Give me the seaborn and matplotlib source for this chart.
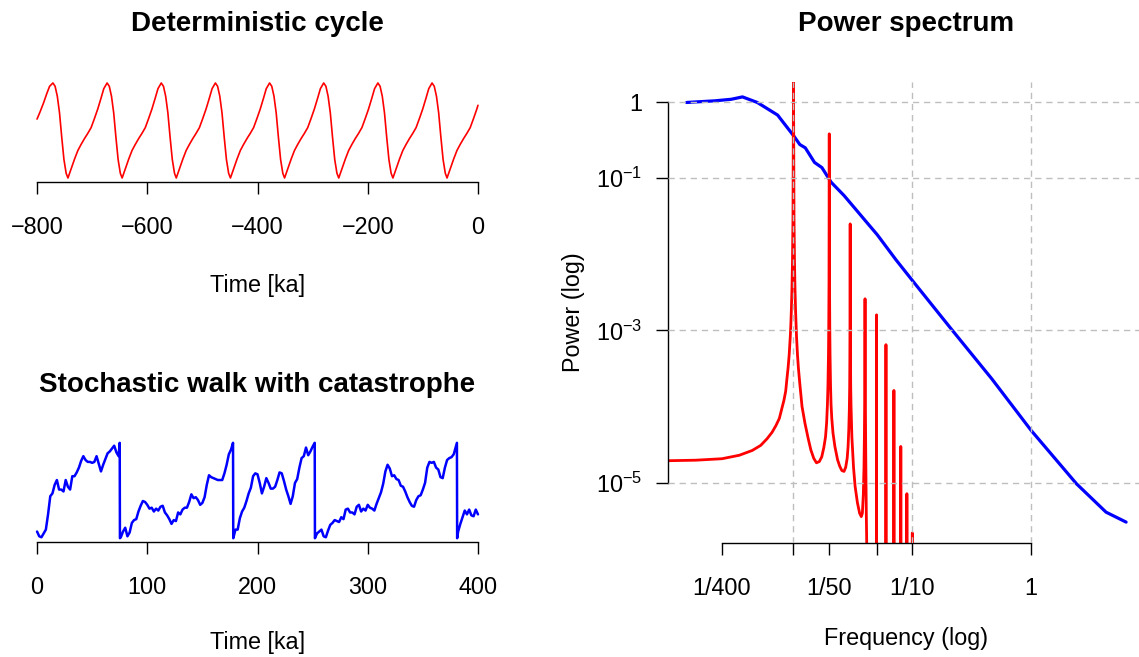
import numpy as np
import seaborn as sns
import matplotlib
matplotlib.use("Agg")  # no display
import matplotlib.pyplot as plt

# ---- data ----
# deterministic cycle: time [ka], amplitude (arbitrary units)
cycle_t = [-800.0, -794.2, -788.2, -782.2, -777.2, -771.2, -767.2, -763.2, -759.2, -755.2, -751.2, -747.2,
           -743.9, -737.9, -731.9, -725.9, -719.9, -713.9, -707.9, -701.9, -695.9, -689.9, -683.9, -678.9, -672.9, -668.9, -664.9, -660.9, -656.9, -652.9, -648.9,
           -645.6, -639.6, -633.6, -627.6, -621.6, -615.6, -609.6, -603.6, -597.6, -591.6, -585.6, -580.6, -574.6, -570.6, -566.6, -562.6, -558.6, -554.6, -550.6,
           -547.4, -541.4, -535.4, -529.4, -523.4, -517.4, -511.4, -505.4, -499.4, -493.4, -487.4, -482.4, -476.4, -472.4, -468.4, -464.4, -460.4, -456.4, -452.4,
           -449.1, -443.1, -437.1, -431.1, -425.1, -419.1, -413.1, -407.1, -401.1, -395.1, -389.1, -384.1, -378.1, -374.1, -370.1, -366.1, -362.1, -358.1, -354.1,
           -350.9, -344.9, -338.9, -332.9, -326.9, -320.9, -314.9, -308.9, -302.9, -296.9, -290.9, -285.9, -279.9, -275.9, -271.9, -267.9, -263.9, -259.9, -255.9,
           -252.6, -246.6, -240.6, -234.6, -228.6, -222.6, -216.6, -210.6, -204.6, -198.6, -192.6, -187.6, -181.6, -177.6, -173.6, -169.6, -165.6, -161.6, -157.6,
           -154.3, -148.3, -142.3, -136.3, -130.3, -124.3, -118.3, -112.3, -106.3, -100.3, -94.3, -89.3, -83.3, -79.3, -75.3, -71.3, -67.3, -63.3, -59.3,
           -56.1, -50.1, -44.1, -38.1, -32.1, -26.1, -20.1, -14.1, -8.1, -2.1, 0.0]
cycle_v = [0.24, 0.40, 0.58, 0.78, 0.93, 1.00, 0.93, 0.72, 0.37, -0.14, -0.61, -0.90,
           -1.00, -0.80, -0.60, -0.42, -0.29, -0.17, -0.06, 0.06, 0.25, 0.45, 0.68, 0.88, 1.00, 0.93, 0.72, 0.37, -0.14, -0.61, -0.90,
           -1.00, -0.80, -0.60, -0.42, -0.29, -0.17, -0.06, 0.06, 0.25, 0.45, 0.68, 0.88, 1.00, 0.93, 0.72, 0.37, -0.14, -0.61, -0.90,
           -1.00, -0.80, -0.60, -0.42, -0.29, -0.17, -0.06, 0.06, 0.25, 0.45, 0.68, 0.88, 1.00, 0.93, 0.72, 0.37, -0.14, -0.61, -0.90,
           -1.00, -0.80, -0.60, -0.42, -0.29, -0.17, -0.06, 0.06, 0.25, 0.45, 0.68, 0.88, 1.00, 0.93, 0.72, 0.37, -0.14, -0.61, -0.90,
           -1.00, -0.80, -0.60, -0.42, -0.29, -0.17, -0.06, 0.06, 0.25, 0.45, 0.68, 0.88, 1.00, 0.93, 0.72, 0.37, -0.14, -0.61, -0.90,
           -1.00, -0.80, -0.60, -0.42, -0.29, -0.17, -0.06, 0.06, 0.25, 0.45, 0.68, 0.88, 1.00, 0.93, 0.72, 0.37, -0.14, -0.61, -0.90,
           -1.00, -0.80, -0.60, -0.42, -0.29, -0.17, -0.06, 0.06, 0.25, 0.45, 0.68, 0.88, 1.00, 0.93, 0.72, 0.37, -0.14, -0.61, -0.90,
           -1.00, -0.80, -0.60, -0.42, -0.29, -0.17, -0.06, 0.06, 0.25, 0.45, 0.53]

# stochastic walk, sampled every 2 ka, with the four catastrophic drops
walk_t = np.concatenate([np.arange(0, 76, 2), [75.0, 75.2],
                         np.arange(76, 177, 2), [177.8, 178.0],
                         np.arange(180, 251, 2), [251.9, 252.1],
                         np.arange(254, 381, 2), [380.9, 381.1],
                         np.arange(382, 401, 2)])
walk_v = [7, 2, 1, 5, 9, 25, 44, 47, 56, 61, 51, 51, 49, 61, 54, 51, 65, 65, 69, 74,
          81, 86, 82, 80, 80, 79, 80, 86, 78, 70, 77, 83, 89, 91, 94, 97, 90, 86, 100,
          0,
          1, 7, 11, 2, 6, 16, 19, 20, 28, 34, 39, 38, 35, 31, 32, 28, 31, 29, 33, 34,
          27, 24, 20, 15, 19, 18, 27, 25, 30, 32, 32, 38, 46, 42, 43, 40, 35, 37, 43, 56,
          66, 64, 63, 62, 61, 61, 61, 68, 77, 88, 93, 100,
          0,
          9, 9, 21, 28, 32, 39, 47, 53, 65, 68, 67, 58, 47, 54, 63, 58, 52, 52, 54, 61,
          69, 68, 60, 51, 44, 36, 44, 58, 62, 74, 84, 86, 95, 87, 91, 96, 100,
          0,
          5, 7, 9, 2, 1, 8, 14, 16, 19, 18, 17, 22, 20, 30, 31, 27, 27, 25, 33, 35,
          28, 31, 29, 35, 32, 31, 29, 36, 42, 48, 57, 70, 77, 73, 65, 66, 62, 61, 55, 54,
          49, 43, 38, 34, 33, 40, 44, 45, 51, 58, 74, 80, 79, 80, 74, 72, 64, 63, 74, 82,
          84, 85, 88, 96, 100,
          0,
          7, 15, 22, 29, 25, 30, 24, 23, 30, 25]

# power spectra (frequency in 1/ka, power)
blue_f = [0.00126, 0.00218, 0.0030, 0.00372, 0.00496, 0.00735, 0.01014, 0.0113, 0.01257, 0.01503,
          0.01734, 0.02074, 0.0266, 0.0330, 0.0409, 0.0507, 0.0725, 0.1, 0.212, 0.466,
          1.0, 2.41, 4.27, 6.3]
blue_p = [0.98, 1.03, 1.08, 1.16, 0.98, 0.67, 0.35, 0.275, 0.249, 0.160,
          0.137, 0.088, 0.059, 0.0397, 0.0267, 0.0180, 0.00853, 0.00453, 1.05e-3, 2.32e-4,
          4.87e-5, 9.7e-6, 4.12e-6, 3.05e-6]

red_f = [0.00088, 0.0015, 0.0025, 0.0035, 0.0045, 0.0053, 0.0060, 0.0066, 0.0071, 0.0076,
         0.0080, 0.0083, 0.0086, 0.0088, 0.0090, 0.0092, 0.0094, 0.0095, 0.0096, 0.0097,
         0.0098, 0.0099, 0.0100, 0.0101, 0.0102, 0.0103, 0.0104, 0.0106, 0.0108, 0.0110,
         0.0113, 0.0118, 0.0125, 0.0133, 0.0140, 0.0148, 0.0156, 0.0165, 0.0173, 0.0180,
         0.0186, 0.0190, 0.0193, 0.0195, 0.0197, 0.0198, 0.0199, 0.0200, 0.0201, 0.0202,
         0.0203, 0.0205, 0.0207, 0.0210, 0.0215, 0.0223, 0.0235, 0.0245, 0.0255, 0.0266,
         0.0275, 0.0283, 0.0288, 0.0292, 0.0295, 0.0297, 0.0298, 0.0299, 0.0300, 0.0301,
         0.0302, 0.0303, 0.0305, 0.0310, 0.0320, 0.0330, 0.0345, 0.0360, 0.0372, 0.0380,
         0.0387, 0.0392, 0.0395, 0.0397, 0.0398, 0.0399, 0.0400, 0.0401, 0.0402, 0.0403,
         0.0406, 0.0410, 0.0415, 0.0450, 0.0499, 0.0500, 0.0501, 0.0599, 0.0600, 0.0601,
         0.0699, 0.0700, 0.0701, 0.0799, 0.0800, 0.0801, 0.0899, 0.0900, 0.0901, 0.0999,
         0.1000, 0.1001]
red_p = [1.95e-5, 1.98e-5, 2.07e-5, 2.3e-5, 2.66e-5, 3.1e-5, 3.8e-5, 4.6e-5, 5.6e-5, 7.0e-5,
         9.6e-5, 1.2e-4, 1.6e-4, 2.3e-4, 3.2e-4, 4.8e-4, 8.4e-4, 1.2e-3, 1.9e-3, 3.4e-3,
         7.6e-3, 3.0e-2, 1.9, 3.0e-2, 7.6e-3, 3.4e-3, 1.9e-3, 8.4e-4, 4.8e-4, 3.2e-4,
         2.0e-4, 1.0e-4, 6.0e-5, 3.8e-5, 2.7e-5, 2.1e-5, 1.83e-5, 1.9e-5, 2.2e-5, 2.9e-5,
         4.0e-5, 6.1e-5, 1.07e-4, 1.9e-4, 4.9e-4, 1.1e-3, 4.4e-3, 0.38, 4.4e-3, 1.1e-3,
         4.9e-4, 1.9e-4, 1.07e-4, 7.0e-5, 4.5e-5, 3.0e-5, 2.0e-5, 1.65e-5, 1.45e-5, 1.41e-5,
         1.6e-5, 2.1e-5, 3.0e-5, 5.0e-5, 9.0e-5, 1.8e-4, 4.0e-4, 1.5e-3, 0.025, 1.5e-3,
         4.0e-4, 1.8e-4, 1.0e-4, 4.0e-5, 1.6e-5, 9.0e-6, 5.5e-6, 4.0e-6, 3.6e-6, 4.0e-6,
         7.0e-6, 1.6e-5, 4.0e-5, 1.0e-4, 2.5e-4, 8.0e-4, 2.6e-3, 8.0e-4, 2.5e-4, 1.0e-4,
         2.0e-5, 4.0e-6, 1.0e-6, 1.0e-7, 1.0e-7, 1.6e-3, 1.0e-7, 1.0e-7, 6.5e-4, 1.0e-7,
         1.0e-7, 1.63e-4, 1.0e-7, 1.0e-7, 3.0e-5, 1.0e-7, 1.0e-7, 7.2e-6, 1.0e-7, 1.0e-7,
         2.2e-6, 1.0e-7]

freq_ticks = [1 / 400, 1 / 100, 1 / 50, 1 / 20, 1 / 10, 1]
freq_labels = ["1/400", "", "1/50", "", "1/10", "1"]
power_ticks = [1, 1e-1, 1e-3, 1e-5]
power_labels = ["1", r"$10^{-1}$", r"$10^{-3}$", r"$10^{-5}$"]
grid_freqs = [1 / 100, 1 / 10, 1]

# ---- style ----
sns.set_style("white")
plt.rcParams["font.family"] = ["Liberation Sans", "DejaVu Sans"]
plt.rcParams["mathtext.fontset"] = "custom"
plt.rcParams["mathtext.rm"] = "Liberation Sans"
plt.rcParams["mathtext.it"] = "Liberation Sans:italic"
plt.rcParams["mathtext.bf"] = "Liberation Sans:bold"
for key in ["text.color", "axes.labelcolor", "xtick.color", "ytick.color"]:
    plt.rcParams[key] = "black"

LBL = 16.8
TTL = 20

fig = plt.figure(figsize=(11.39, 6.57), dpi=100)
ax1 = fig.add_axes([0.01703, 0.7233, 0.4181, 0.1562])
ax2 = fig.add_axes([0.01703, 0.1750, 0.4181, 0.1568])
ax3 = fig.add_axes([0.5865, 0.1735, 0.4179, 0.7017])


def r_style(ax, xbounds, ybounds=None):
    # R-like axes: only the span between the outer ticks is drawn
    for s in ["top", "right"]:
        ax.spines[s].set_visible(False)
    ax.spines["bottom"].set_bounds(*xbounds)
    ax.spines["bottom"].set_linewidth(1.0)
    ax.spines["bottom"].set_color("black")
    if ybounds is None:
        ax.spines["left"].set_visible(False)
        ax.set_yticks([])
    else:
        ax.spines["left"].set_bounds(*ybounds)
        ax.spines["left"].set_linewidth(1.0)
        ax.spines["left"].set_color("black")
    ax.tick_params(axis="both", which="major", length=8.6, width=1.0, direction="out",
                   labelsize=LBL, color="black", labelcolor="black",
                   bottom=True, left=ybounds is not None)
    ax.tick_params(axis="x", pad=16)
    ax.tick_params(axis="y", pad=10)
    ax.tick_params(which="minor", length=0)


# deterministic cycle
sns.lineplot(x=cycle_t, y=cycle_v, ax=ax1, color="#FF0000", linewidth=1.2,
             sort=False, estimator=None)
ax1.set_xlim(-832, 32)
ax1.set_ylim(-1.08, 1.08)
ax1.set_xticks([-800, -600, -400, -200, 0])
r_style(ax1, (-800, 0))
ax1.set_xlabel("Time [ka]", fontsize=LBL, labelpad=25)
ax1.set_ylabel("")
ax1.set_title("Deterministic cycle", fontsize=TTL, fontweight="bold", pad=35)

# stochastic walk
sns.lineplot(x=walk_t, y=walk_v, ax=ax2, color="#0000FF", linewidth=1.8,
             sort=False, estimator=None)
ax2.set_xlim(-16, 416)
ax2.set_ylim(-4, 104)
ax2.set_xticks([0, 100, 200, 300, 400])
r_style(ax2, (0, 400))
ax2.set_xlabel("Time [ka]", fontsize=LBL, labelpad=23)
ax2.set_ylabel("")
ax2.set_title("Stochastic walk with catastrophe", fontsize=TTL, fontweight="bold", pad=34)

# power spectrum
ax3.set_xscale("log")
ax3.set_yscale("log")
sns.lineplot(x=blue_f, y=blue_p, ax=ax3, color="#0000FF", linewidth=2.3,
             sort=False, estimator=None, zorder=2)
sns.lineplot(x=red_f, y=red_p, ax=ax3, color="#FF0000", linewidth=2.0,
             sort=False, estimator=None, zorder=2.5)
for ln in ax3.lines:
    ln.set_solid_joinstyle("round")
ax3.set_xlim(10 ** -3.056, 10 ** 0.95)
ax3.set_ylim(10 ** -5.79, 10 ** 0.26)
for yv in power_ticks:
    ax3.axhline(yv, color="#BEBEBE", linewidth=1.0, linestyle=(0, (4.5, 3.5)), zorder=3)
for xv in grid_freqs:
    ax3.axvline(xv, color="#BEBEBE", linewidth=1.0, linestyle=(0, (4.5, 3.5)), zorder=3)
ax3.set_xticks(freq_ticks)
ax3.set_xticklabels(freq_labels)
ax3.set_yticks(power_ticks)
ax3.set_yticklabels(power_labels)
r_style(ax3, (1 / 400, 1), (1e-5, 1))
ax3.set_xlabel("Frequency (log)", fontsize=LBL, labelpad=19)
ax3.set_ylabel("Power (log)", fontsize=LBL, labelpad=8)
ax3.set_title("Power spectrum", fontsize=TTL, fontweight="bold", pad=37)

fig.savefig("out.png", dpi=100)
